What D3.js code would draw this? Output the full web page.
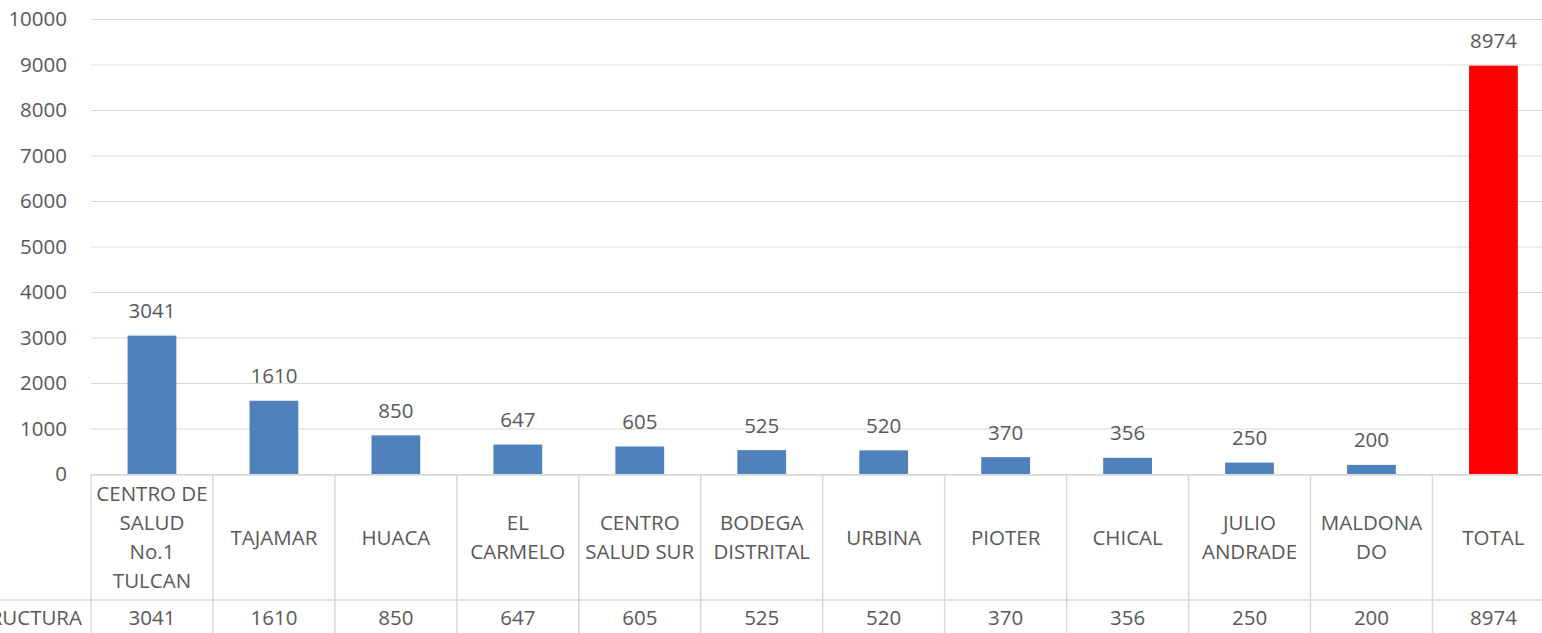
<!DOCTYPE html>
<html>
<head>
<meta charset="utf-8">
<script src="https://cdn.jsdelivr.net/npm/d3@7"></script>
<style>
  html, body { margin: 0; padding: 0; background: #fff; overflow: hidden; }
  text { font-family: "Open Sans", "Noto Sans", sans-serif; fill: #595959; }
</style>
</head>
<body>
<div id="chart"></div>
<script>
// ------ Data ---------------//
var categories = ["CENTRO DE\nSALUD\nNo.1\nTULCAN", "TAJAMAR", "HUACA", "EL\nCARMELO",
                  "CENTRO\nSALUD SUR", "BODEGA\nDISTRITAL", "URBINA", "PIOTER",
                  "CHICAL", "JULIO\nANDRADE", "MALDONA\nDO", "TOTAL"];
var values = [3041, 1610, 850, 647, 605, 525, 520, 370, 356, 250, 200, 8974];
var seriesName = "ESTRUCTURA";
var yTicks = [0, 1000, 2000, 3000, 4000, 5000, 6000, 7000, 8000, 9000, 10000];

// ------ Sizes ---------------//
var width = 1542, height = 633;
var plot = { left: 91, top: 19, bottom: 474, step: 121.95 };
var tableTop = 475, rowLine = 600, fontSize = 20.5;

var svg = d3.select("#chart").append("svg")
    .attr("width", width)
    .attr("height", height);

// ------ Scales ---------------//
var x = d3.scaleBand()
    .domain(d3.range(categories.length))
    .range([plot.left, plot.left + plot.step * categories.length])
    .padding(0);

var y = d3.scaleLinear()
    .domain([0, 10000])
    .range([plot.bottom, plot.top]);

var barW = x.bandwidth() * 0.4;

// ------ Gridlines + y axis ---------------//
svg.append("g")
    .attr("transform", `translate(${plot.left},0)`)
    .call(d3.axisLeft(y)
      .tickValues(yTicks)
      .tickFormat(d3.format("d"))
      .tickSize(-(width - plot.left))
      .tickPadding(24))
    .call(g => g.select(".domain").remove())
    .call(g => g.selectAll(".tick line").attr("stroke", "#d9d9d9").attr("stroke-width", 1))
    .call(g => g.selectAll(".tick text")
      .attr("font-size", fontSize)
      .attr("font-family", null)
      .attr("fill", "#595959"));

// ------ Bars ---------------//
svg.append("g").selectAll("rect")
  .data(values)
  .join("rect")
    .attr("x", (d, i) => x(i) + x.bandwidth() / 2 - barW / 2)
    .attr("y", d => y(d))
    .attr("width", barW)
    .attr("height", d => y(0) - y(d))
    .attr("fill", (d, i) => i === values.length - 1 ? "#ff0000" : "#4f81bd");

// ------ Data labels ---------------//
svg.append("g").selectAll("text")
  .data(values)
  .join("text")
    .attr("x", (d, i) => x(i) + x.bandwidth() / 2)
    .attr("y", d => y(d) - 17.5)
    .attr("text-anchor", "middle")
    .attr("font-size", fontSize)
    .text(d => d);

// ------ Data table ---------------//
var table = svg.append("g");
var gridColor = "#d9d9d9";

table.append("line")
    .attr("x1", plot.left).attr("x2", width)
    .attr("y1", tableTop).attr("y2", tableTop)
    .attr("stroke", gridColor).attr("stroke-width", 1.5);

table.append("line")
    .attr("x1", 0).attr("x2", width)
    .attr("y1", rowLine).attr("y2", rowLine)
    .attr("stroke", gridColor).attr("stroke-width", 1.5);

table.selectAll(".vline")
  .data(d3.range(categories.length + 1))
  .join("line")
    .attr("class", "vline")
    .attr("x1", i => plot.left + i * x.step())
    .attr("x2", i => plot.left + i * x.step())
    .attr("y1", tableTop).attr("y2", height)
    .attr("stroke", gridColor).attr("stroke-width", 1.5);

// category labels, several lines centred in the cell
var lineH = 29;
var cellMid = (tableTop + rowLine) / 2;
table.selectAll(".cat")
  .data(categories)
  .join("text")
    .attr("class", "cat")
    .attr("text-anchor", "middle")
    .attr("font-size", fontSize)
    .each(function(d, i) {
      var lines = d.split("\n");
      var t = d3.select(this);
      var y0 = cellMid - (lines.length - 1) * lineH / 2 + 7.3;
      lines.forEach(function(l, k) {
        t.append("tspan")
          .attr("x", x(i) + x.bandwidth() / 2)
          .attr("y", y0 + k * lineH)
          .text(l);
      });
    });

// value row (series name runs off the left edge, as in the original)
table.append("text")
    .attr("x", 82)
    .attr("y", 625)
    .attr("text-anchor", "end")
    .attr("font-size", fontSize)
    .text(seriesName);

table.selectAll(".val")
  .data(values)
  .join("text")
    .attr("class", "val")
    .attr("x", (d, i) => x(i) + x.bandwidth() / 2)
    .attr("y", 625)
    .attr("text-anchor", "middle")
    .attr("font-size", fontSize)
    .text(d => d);
</script>
</body>
</html>
